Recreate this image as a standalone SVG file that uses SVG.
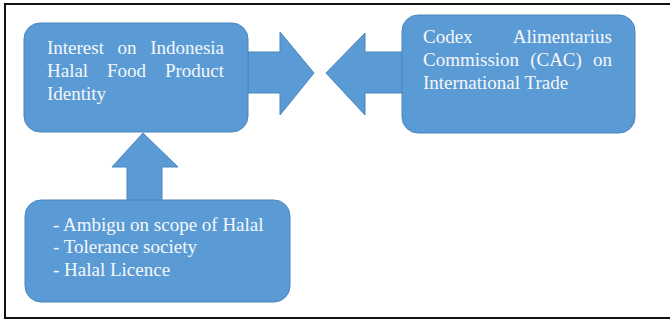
<svg xmlns="http://www.w3.org/2000/svg" width="670" height="320" viewBox="0 0 670 320">
<style>
.box{fill:#5B9BD5;stroke:#4A85BD;stroke-width:1}
.arr{fill:#5B9BD5;stroke:#4A85BD;stroke-width:1}
.t{font-family:"Liberation Serif","Times New Roman",serif;font-size:19px;fill:#F4F7FB}
.e{text-anchor:end}
.m{text-anchor:middle}
</style>
<rect x="0" y="0" width="670" height="320" fill="#FFFFFF"/>
<rect x="5" y="4" width="672" height="314" fill="none" stroke="#111111" stroke-width="2"/>
<g id="connectors">
<polygon class="arr" points="248,52 280,52 280,32 314,73 280,115 280,93 248,93"/>
<polygon class="arr" points="326,73 365,33 365,52 402,52 402,93 365,93 365,115"/>
<polygon class="arr" points="143,133 178,167 162,167 162,202 127,202 127,167 112,167"/>
</g>
<g id="node-interest">
<rect class="box" x="24" y="23" width="224" height="109" rx="16"/>
<text class="t" x="47" y="54">Interest</text>
<text class="t m" x="127" y="54">on</text>
<text class="t e" x="224" y="54">Indonesia</text>
<text class="t" x="47" y="77">Halal</text>
<text class="t m" x="126.5" y="77">Food</text>
<text class="t e" x="224" y="77">Product</text>
<text class="t" x="47" y="100">Identity</text>
</g>
<g id="node-codex">
<rect class="box" x="402" y="15" width="233" height="118" rx="16"/>
<text class="t" x="423" y="43">Codex</text>
<text class="t e" x="612" y="43">Alimentarius</text>
<text class="t" x="423" y="66">Commission</text>
<text class="t m" x="556" y="66">(CAC)</text>
<text class="t e" x="612" y="66">on</text>
<text class="t" x="423" y="89">International Trade</text>
</g>
<g id="node-issues">
<rect class="box" x="25" y="200" width="265" height="102" rx="16"/>
<text class="t" x="53" y="231">- Ambigu on scope of Halal</text>
<text class="t" x="53" y="253">- Tolerance society</text>
<text class="t" x="53" y="276">- Halal Licence</text>
</g>
</svg>
